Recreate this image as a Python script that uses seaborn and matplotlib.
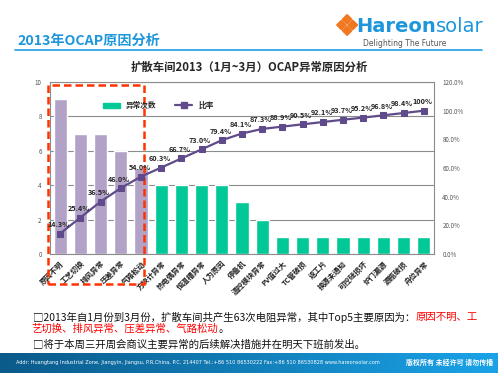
import numpy as np
import pandas as pd
import matplotlib
matplotlib.use("Agg")
import matplotlib.pyplot as plt
import matplotlib.transforms as mtransforms
from matplotlib.patches import Rectangle, Patch, Polygon
from matplotlib.lines import Line2D
from matplotlib.text import Annotation
import seaborn as sns

## Data

categories = ["原因不明", "工艺切换", "排风异常", "压差异常", "气路松动",
              "方块计异常", "热电偶异常", "恒温槽异常", "人为原因", "停备机",
              "温控模块异常", "PV值过大", "TC管破损", "返工片", "换源未通知",
              "可控硅损坏", "炉门漏源", "源瓶破损", "舟位异常"]
counts = [9, 7, 7, 6, 5, 4, 4, 4, 4, 3, 2, 1, 1, 1, 1, 1, 1, 1, 1]
cum_pct = [14.3, 25.4, 36.5, 46.0, 54.0, 60.3, 66.7, 73.0, 79.4, 84.1,
           87.3, 88.9, 90.5, 92.1, 93.7, 95.2, 96.8, 98.4, 100.0]
pct_labels = ["14.3%", "25.4%", "36.5%", "46.0%", "54.0%", "60.3%", "66.7%",
              "73.0%", "79.4%", "84.1%", "87.3%", "88.9%", "90.5%", "92.1%",
              "93.7%", "95.2%", "96.8%", "98.4%", "100%"]
top_n = 5

PURPLE = "#B3A2C7"
GREEN = "#00C896"
LINE = "#5F4B8B"
BLUE = "#1E96DC"

sns.set_theme(style="white")
plt.rcParams['font.family'] = ['Noto Sans CJK SC', 'DejaVu Sans']

df = pd.DataFrame({"cat": categories, "n": counts, "pct": cum_pct})
df["pos"] = range(len(df))
bar_colors = [PURPLE if i < top_n else GREEN for i in range(len(df))]

fig = plt.figure(figsize=(4.98, 3.73), dpi=100)


def text_after(prev, s, **kw):
    # put a text right after another one, on the same line
    a = Annotation(s, xy=(1, 0.5), xycoords=prev, va="center", ha="left",
                   annotation_clip=False, **kw)
    fig.add_artist(a)
    return a


## Header
fig.text(0.036, 0.89, "2013年OCAP原因分析", color=BLUE, fontsize=10.2,
         fontweight="bold", va="center")
fig.add_artist(Line2D([0.03, 0.968], [0.866, 0.866], color="#1AA0E6", lw=1.2))
# logo mark
cx, cy, r = 0.697, 0.933, 0.0095
for dx, dy in [(0, 1), (-1, 0), (1, 0), (0, -1)]:
    x0 = cx + dx * r * 1.2
    y0 = cy + dy * r * 1.6
    fig.add_artist(Polygon([(x0, y0 + r * 1.33), (x0 + r, y0), (x0, y0 - r * 1.33),
                            (x0 - r, y0)], closed=True, color="#F07820",
                           transform=fig.transFigure))
t_h = fig.text(0.716, 0.93, "Hareon", color=BLUE, fontsize=14, fontweight="bold",
               va="center", family="DejaVu Sans")
text_after(t_h, "solar", color=BLUE, fontsize=14, family="DejaVu Sans")
fig.text(0.728, 0.883, "Delighting The Future", color="#555555", fontsize=5.5,
         va="center", family="DejaVu Sans")

fig.text(0.5, 0.82, "扩散车间2013（1月~3月）OCAP异常原因分析", fontsize=8.2,
         fontweight="bold", ha="center", va="center")

## Chart
ax = fig.add_axes([0.1004, 0.319, 0.771, 0.461])
sns.barplot(data=df, x="cat", y="n", hue="cat", palette=bar_colors,
            legend=False, width=0.65, ax=ax, saturation=1)
ax.set_ylim(0, 10)
ax.set_xlim(-0.5, len(df) - 0.5)
ax.set_yticks(range(0, 11, 2))
ax.yaxis.grid(True, color="#8C8C8C", lw=0.8)
ax.set_axisbelow(True)
ax.set_xlabel("")
ax.set_ylabel("")
ax.tick_params(axis="y", labelsize=4.5, labelcolor="#555555", length=0, pad=6)
ax.set_xticks(range(len(df)))
ax.set_xticklabels(categories, rotation=45, ha="right", rotation_mode="anchor",
                   fontsize=5.3, fontweight="bold", color="#222222")
ax.tick_params(axis="x", length=0, pad=4)
ax.set_xticks(np.arange(-0.5, len(df), 1), minor=True)
ax.tick_params(axis="x", which="minor", length=3, color="#8C8C8C", direction="out")
for s in ["left", "right", "bottom", "top"]:
    ax.spines[s].set_color("#8C8C8C")
    ax.spines[s].set_linewidth(0.8)

ax2 = ax.twinx()
sns.lineplot(data=df, x="pos", y=df["pct"] / 100, ax=ax2, color=LINE, lw=1.6,
             marker="s", markersize=4.5, markeredgecolor=LINE)
ax2.set_ylim(0, 1.2)
ax2.set_yticks(np.arange(0, 1.21, 0.2))
ax2.set_yticklabels([f"{v:.1f}%" for v in np.arange(0, 121, 20)])
ax2.tick_params(axis="y", labelsize=4.5, labelcolor="#555555", length=0, pad=6)
ax2.set_ylabel("")
ax2.set_xlabel("")
ax2.grid(False)
for s in ["left", "right", "bottom", "top"]:
    ax2.spines[s].set_visible(False)

for x, y, lab in zip(df["pos"], df["pct"] / 100, pct_labels):
    ax2.annotate(lab, (x, y), xytext=(-1, 4), textcoords="offset points",
                 ha="center", va="bottom", fontsize=5.2, fontweight="bold",
                 color="#222222")

handles = [Patch(color=GREEN, label="异常次数"),
           Line2D([0], [0], color=LINE, lw=1.6, marker="s", markersize=4,
                  label="比率")]
ax2.legend(handles=handles, loc="upper left", bbox_to_anchor=(0.12, 0.93),
           ncol=2, frameon=False, handlelength=2.2, columnspacing=2.5,
           prop={"weight": "bold", "size": 5.5})

# red dashed box around the top 5 causes
box_tr = mtransforms.blended_transform_factory(ax.transData, ax.transAxes)
ax.add_patch(Rectangle((-0.6, -0.175), top_n - 0.6 + 0.35, 0.98 + 0.175,
                       transform=box_tr, fill=False, edgecolor="#FF3300",
                       lw=1.8, ls=(0, (3, 1.6)), clip_on=False, zorder=10))

## Bottom notes
t1 = fig.text(0.066, 0.15, "□2013年自1月份到3月份，扩散车间共产生63次电阻异常，其中Top5主要原因为：",
              fontsize=7.5, va="center", color="#111111")
text_after(t1, "原因不明、工", fontsize=7.5, color="#FF0000")
t2 = fig.text(0.064, 0.118, "艺切换、排风异常、压差异常、气路松动", fontsize=7.5,
              va="center", color="#FF0000")
text_after(t2, "。", fontsize=7.5, color="#111111")
fig.text(0.066, 0.075, "□将于本周三开周会商议主要异常的后续解决措施并在明天下班前发出。",
         fontsize=7.5, va="center", color="#111111")

## Footer bar
fax = fig.add_axes([0, 0, 1, 0.054])
grad = np.linspace(0, 1, 256).reshape(1, -1)
cmap = matplotlib.colors.LinearSegmentedColormap.from_list("ft", ["#0B5A8A", "#1AA3E8"])
fax.imshow(grad, aspect="auto", cmap=cmap, extent=[0, 1, 0, 1])
fax.set_axis_off()
fig.text(0.032, 0.028, "Addr: Huangtang Industrial Zone, Jiangyin, Jiangsu, P.R.China, P.C. 214407 "
         "Tel.:+86 510 86530222 Fax:+86 510 86530828 www.hareonsolar.com",
         color="white", fontsize=3.6, va="center", family="DejaVu Sans")
fig.text(0.815, 0.028, "版权所有 未经许可 请勿传播", color="white", fontsize=5,
         fontweight="bold", va="center")

fig.savefig("out.png", dpi=100)
